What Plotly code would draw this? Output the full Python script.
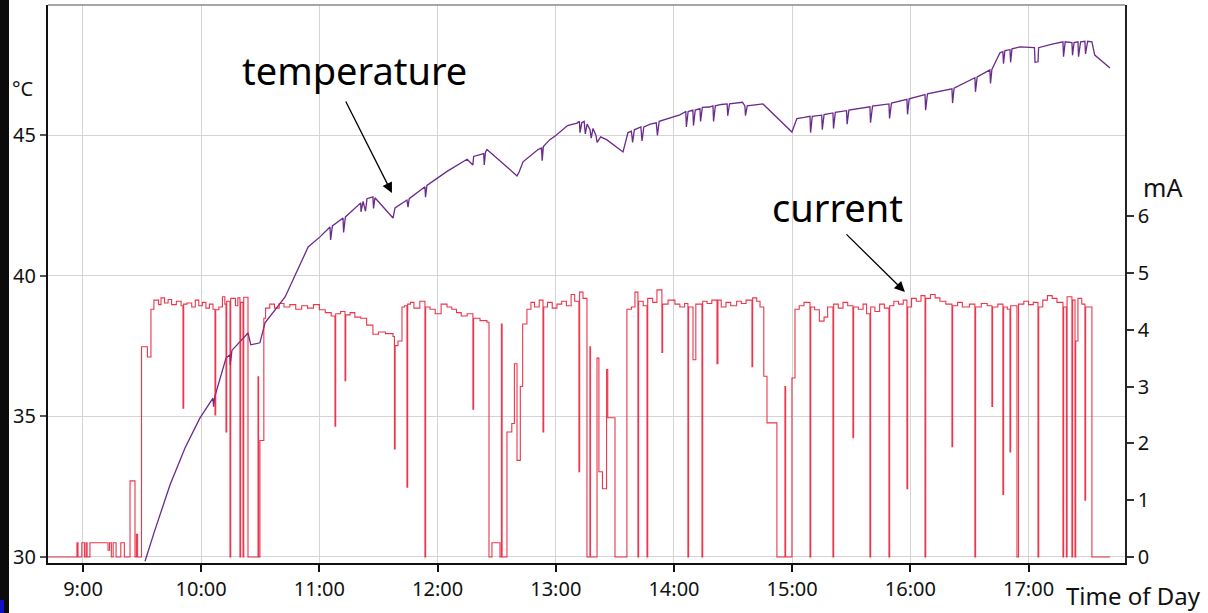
import plotly.graph_objects as go

# ---- time axis (decimal hours of the day) ----
hour_ticks = [9, 10, 11, 12, 13, 14, 15, 16, 17]
hour_labels = ["9:00", "10:00", "11:00", "12:00", "13:00", "14:00", "15:00", "16:00", "17:00"]

temp_ticks = [30, 35, 40, 45]
ma_ticks = [0, 1, 2, 3, 4, 5, 6]

# ---- cell current, mA (step samples) ----
cur_time = [
    8.704, 8.949, 8.958, 8.990, 9.012, 9.025, 9.035, 9.059, 9.212, 9.225,
    9.240, 9.255, 9.280, 9.320, 9.350, 9.398, 9.440, 9.452, 9.462, 9.495,
    9.545, 9.575, 9.600, 9.640, 9.660, 9.690, 9.720, 9.750, 9.790, 9.830,
    9.846, 9.852, 9.880, 9.920, 9.950, 9.980, 10.010, 10.040, 10.070, 10.100,
    10.117, 10.123, 10.150, 10.180, 10.200, 10.210, 10.216, 10.244, 10.250, 10.290,
    10.310, 10.328, 10.334, 10.354, 10.360, 10.396, 10.481, 10.486, 10.497, 10.530,
    10.545, 10.580, 10.620, 10.660, 10.700, 10.750, 10.800, 10.850, 10.900, 10.950,
    11.000, 11.050, 11.100, 11.132, 11.138, 11.180, 11.217, 11.223, 11.260, 11.300,
    11.350, 11.400, 11.453, 11.500, 11.560, 11.623, 11.635, 11.641, 11.665, 11.699,
    11.720, 11.741, 11.747, 11.770, 11.800, 11.850, 11.893, 11.899, 11.936, 11.980,
    12.030, 12.080, 12.120, 12.160, 12.200, 12.250, 12.299, 12.305, 12.359, 12.418,
    12.435, 12.460, 12.528, 12.540, 12.546, 12.587, 12.628, 12.650, 12.672, 12.700,
    12.720, 12.756, 12.790, 12.820, 12.860, 12.892, 12.898, 12.930, 12.970, 13.010,
    13.050, 13.090, 13.130, 13.160, 13.196, 13.202, 13.230, 13.264, 13.289, 13.294,
    13.349, 13.365, 13.395, 13.430, 13.440, 13.501, 13.602, 13.640, 13.670, 13.695,
    13.701, 13.740, 13.772, 13.778, 13.820, 13.856, 13.898, 13.904, 13.950, 14.008,
    14.050, 14.090, 14.118, 14.124, 14.161, 14.185, 14.237, 14.243, 14.280, 14.320,
    14.364, 14.372, 14.400, 14.440, 14.480, 14.530, 14.570, 14.610, 14.660, 14.666,
    14.700, 14.728, 14.760, 14.787, 14.871, 14.939, 14.945, 14.998, 15.024, 15.060,
    15.100, 15.151, 15.157, 15.190, 15.230, 15.270, 15.300, 15.345, 15.351, 15.390,
    15.430, 15.470, 15.514, 15.520, 15.560, 15.600, 15.630, 15.658, 15.664, 15.700,
    15.740, 15.780, 15.819, 15.825, 15.860, 15.900, 15.940, 15.971, 15.977, 16.010,
    16.050, 16.090, 16.124, 16.130, 16.170, 16.210, 16.250, 16.300, 16.352, 16.358,
    16.400, 16.440, 16.500, 16.546, 16.552, 16.600, 16.650, 16.690, 16.696, 16.740,
    16.783, 16.789, 16.820, 16.843, 16.849, 16.902, 16.915, 16.960, 17.000, 17.040,
    17.080, 17.086, 17.120, 17.160, 17.200, 17.240, 17.291, 17.297, 17.320, 17.326,
    17.367, 17.373, 17.393, 17.399, 17.418, 17.450, 17.477, 17.483, 17.536, 17.689,
]
cur_ma = [
    0.00, 0.25, 0.00, 0.25, 0.00, 0.25, 0.00, 0.25, 0.12, 0.25,
    0.00, 0.25, 0.00, 0.25, 0.00, 1.34, 0.00, 0.40, 0.00, 3.70,
    3.52, 4.36, 4.52, 4.44, 4.56, 4.47, 4.53, 4.44, 4.50, 4.42,
    2.62, 4.45, 4.47, 4.40, 4.52, 4.42, 4.48, 4.38, 4.45, 4.36,
    2.50, 4.35, 4.40, 4.58, 4.45, 2.20, 4.50, 0.00, 4.55, 4.42,
    4.56, 0.00, 4.48, 0.00, 4.57, 0.00, 3.17, 0.00, 2.05, 4.20,
    4.38, 4.45, 4.38, 4.46, 4.40, 4.44, 4.36, 4.42, 4.38, 4.44,
    4.35, 4.30, 4.24, 2.30, 4.28, 4.32, 3.10, 4.26, 4.30, 4.22,
    4.20, 4.08, 3.92, 3.96, 3.93, 3.88, 1.90, 3.72, 3.80, 4.40,
    4.42, 1.23, 4.45, 4.48, 4.38, 4.50, 0.00, 4.40, 4.36, 4.28,
    4.45, 4.40, 4.36, 4.30, 4.24, 4.28, 2.60, 4.20, 4.16, 4.13,
    0.00, 0.25, 0.00, 4.10, 0.00, 2.20, 2.35, 3.40, 1.70, 3.00,
    4.10, 4.36, 4.48, 4.40, 4.52, 2.20, 4.40, 4.48, 4.38, 4.45,
    4.50, 4.42, 4.62, 4.50, 1.50, 4.66, 4.55, 0.00, 3.70, 0.00,
    3.50, 1.50, 1.20, 3.30, 2.45, 0.00, 4.36, 4.40, 4.66, 0.00,
    4.50, 4.42, 0.00, 4.55, 4.48, 4.70, 3.60, 4.45, 4.52, 4.45,
    4.40, 4.46, 0.00, 4.40, 3.47, 4.45, 0.00, 4.50, 4.46, 4.52,
    3.40, 4.52, 4.40, 4.48, 4.42, 4.50, 4.46, 4.52, 3.35, 4.56,
    4.50, 4.40, 3.18, 2.36, 0.00, 3.00, 0.00, 3.15, 4.36, 4.42,
    4.48, 0.00, 4.40, 4.35, 4.15, 4.22, 4.40, 0.00, 4.45, 4.38,
    4.48, 4.42, 2.10, 4.40, 4.36, 4.45, 4.28, 0.00, 4.40, 4.32,
    4.45, 4.38, 0.00, 4.42, 4.50, 4.45, 4.52, 1.20, 4.40, 4.55,
    4.50, 4.60, 0.00, 4.55, 4.62, 4.56, 4.50, 4.45, 1.94, 4.42,
    4.48, 4.40, 4.45, 0.00, 4.40, 4.46, 4.42, 2.65, 4.40, 4.45,
    1.10, 4.40, 4.36, 1.85, 4.42, 0.00, 4.45, 4.50, 4.44, 4.48,
    0.00, 4.40, 4.52, 4.60, 4.55, 4.48, 0.00, 4.40, 0.00, 4.58,
    0.00, 4.52, 0.00, 3.80, 4.55, 4.45, 1.00, 4.40, 0.00, 0.00,
]

# ---- temperature, °C ----
temp_time = [
    9.525, 9.600, 9.736, 9.863, 9.990, 10.100, 10.105, 10.115, 10.210, 10.244,
    10.246, 10.260, 10.396, 10.420, 10.497, 10.540, 10.710, 10.905, 11.005, 11.090,
    11.095, 11.110, 11.200, 11.205, 11.220, 11.350, 11.352, 11.370, 11.390, 11.403,
    11.453, 11.458, 11.470, 11.623, 11.640, 11.741, 11.750, 11.760, 11.893, 11.898,
    11.910, 12.080, 12.250, 12.299, 12.305, 12.390, 12.395, 12.405, 12.418, 12.672,
    12.690, 12.723, 12.850, 12.880, 12.885, 12.895, 12.950, 13.000, 13.100, 13.180,
    13.200, 13.205, 13.220, 13.240, 13.250, 13.265, 13.290, 13.300, 13.315, 13.340,
    13.350, 13.380, 13.433, 13.569, 13.611, 13.640, 13.650, 13.665, 13.720, 13.730,
    13.745, 13.800, 13.850, 13.860, 13.875, 13.950, 14.050, 14.100, 14.105, 14.120,
    14.160, 14.165, 14.180, 14.220, 14.225, 14.240, 14.300, 14.330, 14.335, 14.350,
    14.400, 14.450, 14.455, 14.470, 14.543, 14.580, 14.600, 14.605, 14.620, 14.753,
    14.998, 15.040, 15.100, 15.151, 15.156, 15.170, 15.250, 15.255, 15.270, 15.345,
    15.350, 15.365, 15.460, 15.465, 15.480, 15.600, 15.658, 15.663, 15.680, 15.819,
    15.824, 15.840, 15.950, 15.971, 15.976, 15.990, 16.124, 16.129, 16.145, 16.300,
    16.352, 16.357, 16.370, 16.546, 16.551, 16.565, 16.673, 16.678, 16.690, 16.758,
    16.783, 16.788, 16.800, 16.843, 16.848, 16.860, 16.927, 17.050, 17.055, 17.080,
    17.085, 17.200, 17.291, 17.296, 17.310, 17.367, 17.372, 17.385, 17.418, 17.423,
    17.440, 17.477, 17.482, 17.500, 17.536, 17.560, 17.689,
]
temp_c = [
    29.85, 30.85, 32.56, 33.88, 34.95, 35.65, 35.35, 35.70, 37.08, 37.20,
    36.83, 37.35, 37.97, 37.55, 37.62, 38.33, 39.25, 41.03, 41.39, 41.74,
    41.28, 41.78, 42.06, 41.55, 42.10, 42.60, 42.28, 42.65, 42.30, 42.75,
    42.81, 42.40, 42.78, 42.06, 42.42, 42.70, 42.45, 42.75, 43.17, 42.80,
    43.22, 43.72, 44.15, 43.95, 44.25, 44.35, 43.95, 44.40, 44.50, 43.56,
    43.70, 44.06, 44.50, 44.55, 44.10, 44.60, 44.85, 45.00, 45.35, 45.44,
    45.50, 45.10, 45.45, 45.50, 45.05, 45.40, 45.20, 44.90, 45.25, 45.00,
    44.75, 44.95, 44.84, 44.41, 45.10, 45.15, 44.75, 45.20, 45.30, 44.80,
    45.30, 45.40, 45.45, 45.00, 45.50, 45.60, 45.73, 45.85, 45.30, 45.85,
    45.90, 45.35, 45.90, 45.95, 45.50, 46.00, 46.01, 46.05, 45.50, 46.05,
    46.10, 46.12, 45.70, 46.12, 46.16, 46.18, 46.05, 45.70, 46.05, 46.12,
    45.12, 45.60, 45.64, 45.68, 45.10, 45.68, 45.72, 45.20, 45.74, 45.80,
    45.25, 45.82, 45.88, 45.40, 45.90, 45.98, 46.02, 45.45, 46.04, 46.12,
    45.60, 46.15, 46.25, 46.28, 45.75, 46.30, 46.45, 45.90, 46.48, 46.60,
    46.66, 46.15, 46.68, 47.05, 46.55, 47.08, 47.33, 46.85, 47.35, 47.94,
    47.98, 47.55, 48.02, 48.05, 47.60, 48.08, 48.15, 48.12, 47.60, 47.62,
    48.12, 48.25, 48.33, 47.80, 48.33, 48.30, 47.85, 48.30, 48.33, 47.80,
    48.33, 48.35, 47.90, 48.35, 48.33, 47.86, 47.40,
]

TICK_FONT = dict(family="Noto Sans", size=20, color="#111111")
GRID = "#d4d4d4"

# plot-area geometry in pixels (used to place paper-referenced labels)
L, R, T, B, W, H = 48, 83, 5, 50, 1208, 613
PW, PH = W - L - R, H - T - B


def px_x(px):
    return (px - L) / PW


def px_y(py):
    return (H - B - py) / PH


fig = go.Figure()

fig.add_trace(go.Scatter(
    x=cur_time, y=cur_ma, yaxis="y2", mode="lines",
    line=dict(color="#e8142e", width=1.1, shape="hv"),
    opacity=0.85, name="current", showlegend=False,
))
fig.add_trace(go.Scatter(
    x=temp_time, y=temp_c, yaxis="y", mode="lines",
    line=dict(color="#6a2a8c", width=1.3),
    name="temperature", showlegend=False,
))

fig.update_layout(
    width=W, height=H,
    margin=dict(l=L, r=R, t=T, b=B),
    paper_bgcolor="white", plot_bgcolor="white",
    xaxis=dict(
        range=[8.704, 17.816], tickvals=hour_ticks, ticktext=hour_labels,
        showgrid=True, gridcolor=GRID, gridwidth=1, zeroline=False,
        showline=True, linecolor="#111111", linewidth=2,
        ticks="outside", ticklen=7, tickcolor="#111111", tickwidth=1.5,
        tickfont=TICK_FONT, automargin=False,
    ),
    yaxis=dict(
        range=[29.786, 49.64], tickvals=temp_ticks,
        showgrid=True, gridcolor=GRID, gridwidth=1, zeroline=False,
        showline=True, linecolor="#111111", linewidth=2,
        ticks="outside", ticklen=6, tickcolor="#555555", tickwidth=1.5,
        tickfont=TICK_FONT, automargin=False,
    ),
    yaxis2=dict(
        range=[-0.1056, 9.713], tickvals=ma_ticks, overlaying="y", side="right",
        showgrid=False, zeroline=False,
        showline=True, linecolor="#222222", linewidth=1.5,
        ticks="outside", ticklen=7, tickcolor="#333333", tickwidth=1.5,
        tickfont=TICK_FONT, automargin=False,
    ),
)

# frame: thin grey top edge and dark strip on the far left
fig.add_shape(type="line", xref="paper", yref="paper", x0=0, x1=1, y0=1, y1=1,
              line=dict(color="#8a8a8a", width=1.5))
fig.add_shape(type="rect", xref="paper", yref="paper",
              x0=px_x(0), x1=px_x(9), y0=px_y(H), y1=px_y(0),
              fillcolor="#0b0b0b", line=dict(width=0), layer="above")
fig.add_shape(type="rect", xref="paper", yref="paper",
              x0=px_x(0), x1=px_x(4), y0=px_y(H), y1=px_y(600),
              fillcolor="#1010c8", line=dict(width=0), layer="above")

ANN_FONT = dict(family="Noto Sans", size=38, color="#000000")

# unit labels
fig.add_annotation(text="°C", xref="paper", yref="paper", x=px_x(23), y=px_y(89),
                   xanchor="center", yanchor="middle", showarrow=False,
                   font=dict(family="Noto Sans", size=20, color="#111111"))
fig.add_annotation(text="mA", xref="paper", yref="paper", x=px_x(1162), y=px_y(187),
                   xanchor="center", yanchor="middle", showarrow=False,
                   font=dict(family="Noto Sans", size=25, color="#111111"))
fig.add_annotation(text="Time of Day", xref="paper", yref="paper", x=px_x(1133), y=px_y(595),
                   xanchor="center", yanchor="middle", showarrow=False,
                   font=dict(family="Noto Sans", size=24, color="#111111"))

# series labels with pointer arrows
fig.add_annotation(text="temperature", x=11.30, y=47.33, xref="x", yref="y",
                   xanchor="center", yanchor="middle", showarrow=False, font=ANN_FONT)
fig.add_annotation(text="current", x=15.387, y=42.46, xref="x", yref="y",
                   xanchor="center", yanchor="middle", showarrow=False, font=ANN_FONT)
fig.add_annotation(text="", x=11.614, y=42.95, ax=11.217, ay=46.26,
                   xref="x", yref="y", axref="x", ayref="y",
                   showarrow=True, arrowhead=2, arrowsize=1.6, arrowwidth=1.3, arrowcolor="#000000")
fig.add_annotation(text="", x=15.954, y=39.43, ax=15.447, ay=41.53,
                   xref="x", yref="y", axref="x", ayref="y",
                   showarrow=True, arrowhead=2, arrowsize=1.6, arrowwidth=1.3, arrowcolor="#000000")

fig.write_html("out.html")
